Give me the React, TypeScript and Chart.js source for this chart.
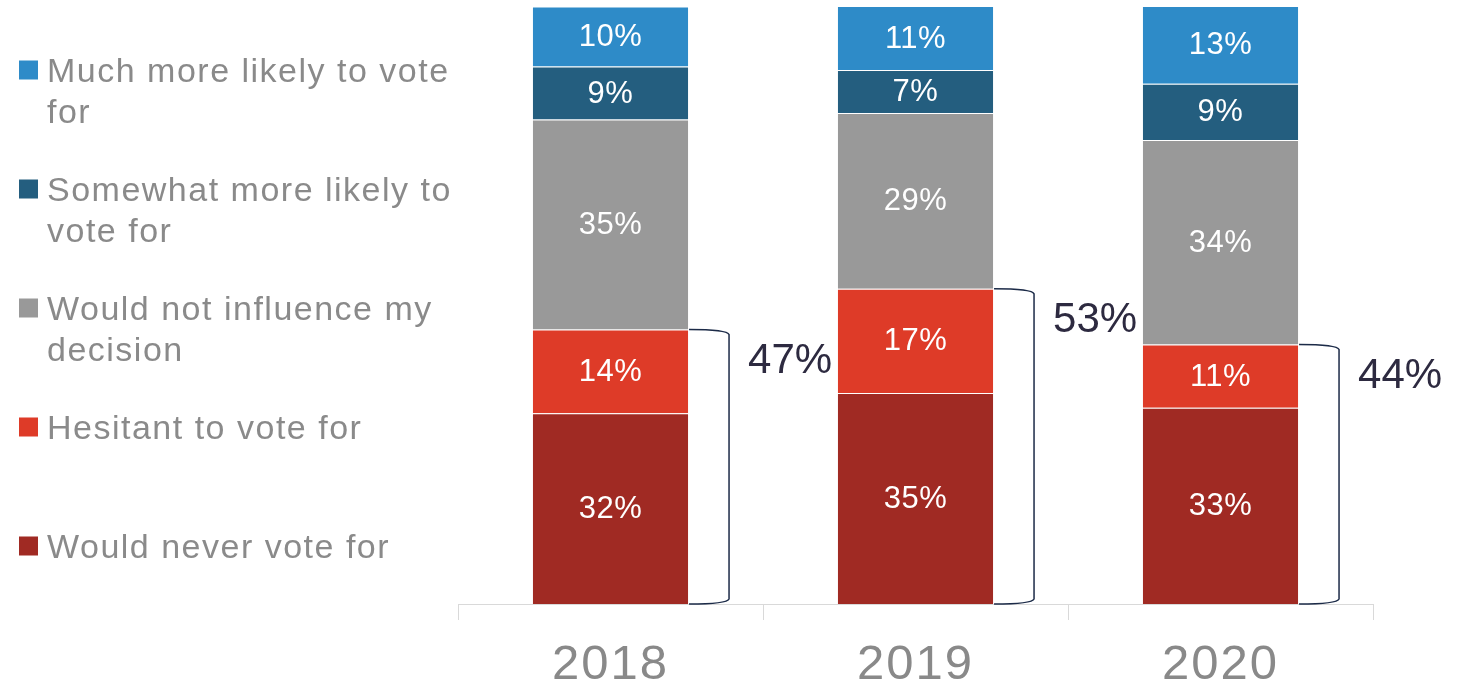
import React, { useEffect, useRef } from "react";
import { Chart, registerables } from "chart.js";

Chart.register(...registerables);

const years = ["2018", "2019", "2020"];
const neverVote = [31.9, 35.3, 32.8];
const hesitant = [14.0, 17.4, 10.6];
const noInfluence = [35.1, 29.4, 34.2];
const somewhatMore = [8.9, 7.2, 9.4];
const muchMore = [10.0, 10.7, 13.0];
const combinedNegative = [47, 53, 44];

const seriesNames = [
  "Would never vote for",
  "Hesitant to vote for",
  "Would not influence my decision",
  "Somewhat more likely to vote for",
  "Much more likely to vote for",
];
const seriesColors = ["#A02A23", "#DE3B28", "#999999", "#245E7F", "#2E8BC8"];
const legendLines = [
  ["Much more likely to vote", "for"],
  ["Somewhat more likely to", "vote for"],
  ["Would not influence my", "decision"],
  ["Hesitant to vote for"],
  ["Would never vote for"],
];
const legendColors = ["#2E8BC8", "#245E7F", "#999999", "#DE3B28", "#A02A23"];

const FONT = "'Liberation Sans', Arial, sans-serif";

const legendPlugin = {
  id: "sideLegend",
  afterDraw(chart: any) {
    const ctx = chart.ctx;
    ctx.save();
    (ctx as any).letterSpacing = "1.5px";
    ctx.font = `34px ${FONT}`;
    ctx.textAlign = "left";
    ctx.textBaseline = "alphabetic";
    legendLines.forEach((lines, i) => {
      const cy = 70 + i * 119;
      ctx.fillStyle = legendColors[i];
      ctx.fillRect(19, cy - 9.5, 19, 19);
      ctx.fillStyle = "#8a8a8a";
      lines.forEach((ln, j) => {
        ctx.fillText(ln, 47, cy + 12 + j * 41);
      });
    });
    ctx.restore();
  },
};

const spacingPlugin = {
  id: "tickSpacing",
  beforeDraw(chart: any) {
    (chart.ctx as any).letterSpacing = "2px";
  },
  beforeDatasetsDraw(chart: any) {
    (chart.ctx as any).letterSpacing = "0px";
  },
};

const valueLabelPlugin = {
  id: "valueLabels",
  afterDatasetsDraw(chart: any) {
    const ctx = chart.ctx;
    ctx.save();
    (ctx as any).letterSpacing = "0.5px";
    ctx.font = `31px ${FONT}`;
    ctx.fillStyle = "#ffffff";
    ctx.textAlign = "center";
    ctx.textBaseline = "middle";
    chart.data.datasets.forEach((ds: any, di: number) => {
      const meta = chart.getDatasetMeta(di);
      meta.data.forEach((el: any, i: number) => {
        const v = ds.data[i];
        const cy = (el.y + el.base) / 2;
        ctx.fillText(Math.round(v) + "%", el.x, cy + 1);
      });
    });
    ctx.restore();
  },
};

const bracketPlugin = {
  id: "brackets",
  afterDatasetsDraw(chart: any) {
    const ctx = chart.ctx;
    const m0 = chart.getDatasetMeta(0);
    const m1 = chart.getDatasetMeta(1);
    ctx.save();
    combinedNegative.forEach((val, i) => {
      const e0 = m0.data[i];
      const e1 = m1.data[i];
      const right = e1.x + e1.width / 2;
      const top = e1.y;
      const bottom = e0.base;
      const w = 40;
      ctx.beginPath();
      ctx.moveTo(right, top);
      ctx.quadraticCurveTo(right + w - 2, top, right + w, top + 5);
      ctx.lineTo(right + w, bottom - 5);
      ctx.quadraticCurveTo(right + w - 2, bottom, right, bottom);
      ctx.strokeStyle = "#1c2b48";
      ctx.lineWidth = 1.5;
      ctx.stroke();
      ctx.font = `42px ${FONT}`;
      ctx.fillStyle = "#2d2a40";
      ctx.textAlign = "left";
      ctx.textBaseline = "middle";
      ctx.fillText(val + "%", right + w + 19, top + 32);
    });
    ctx.restore();
  },
};

export default function App() {
  const ref = useRef<HTMLCanvasElement | null>(null);
  useEffect(() => {
    if (!ref.current) return;
    const series = [neverVote, hesitant, noInfluence, somewhatMore, muchMore];
    const chart = new Chart(ref.current, {
      type: "bar",
      data: {
        labels: years,
        datasets: series.map((d, i) => ({
          label: seriesNames[i],
          data: d,
          backgroundColor: seriesColors[i],
          borderColor: "rgba(255,255,255,0.18)",
          borderWidth: 1,
          barPercentage: 0.515,
          categoryPercentage: 1,
        })),
      },
      options: {
        responsive: false,
        animation: false,
        layout: { padding: { left: 458, right: 101, top: 6, bottom: 0 } },
        plugins: {
          legend: { display: false },
          tooltip: { enabled: false },
        },
        scales: {
          x: {
            stacked: true,
            grid: {
              display: true,
              drawOnChartArea: false,
              drawTicks: true,
              tickLength: 16,
              color: "#d9d9d9",
              offset: true,
            },
            border: { display: true, color: "#d9d9d9", width: 1 },
            ticks: {
              font: { size: 49, family: FONT },
              color: "#898989",
              padding: 16,
            },
            afterFit(scale: any) {
              scale.height = 81;
            },
          },
          y: {
            stacked: true,
            display: false,
            min: 0,
            max: 100,
          },
        },
      },
      plugins: [spacingPlugin, valueLabelPlugin, bracketPlugin, legendPlugin],
    });
    return () => chart.destroy();
  }, []);
  return (
    <div style={{ position: "fixed", left: 0, top: 0, width: 1474, height: 685, background: "#fff" }}>
      <canvas ref={ref} width={1474} height={685} style={{ width: 1474, height: 685, display: "block" }} />
    </div>
  );
}
